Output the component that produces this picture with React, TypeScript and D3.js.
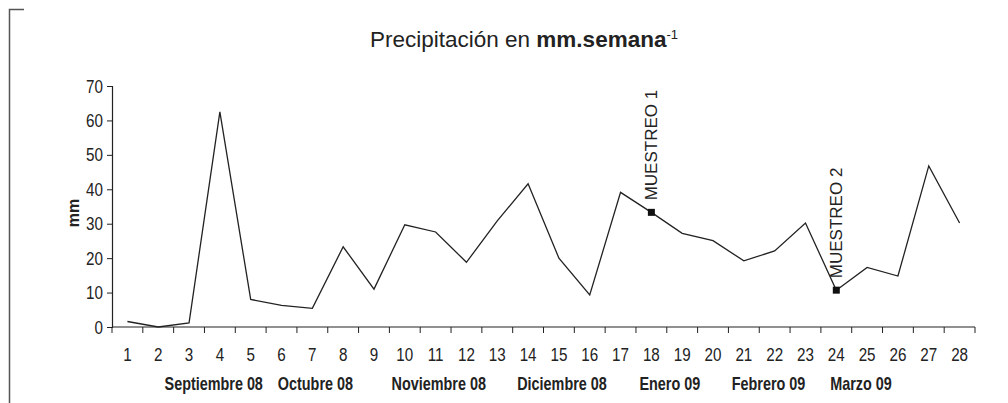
import { useEffect, useRef } from 'react'
import * as d3 from 'd3'

const weeks = d3.range(1, 29).map(String)
const rain = [1.6, 0, 1.2, 62.5, 8.0, 6.3, 5.4, 23.3, 11.0, 29.7, 27.6, 18.8, 30.8, 41.6,
  20.0, 9.3, 39.1, 33.3, 27.2, 25.1, 19.2, 22.1, 30.2, 10.7, 17.3, 14.8, 46.8, 30.2]
const yTicks = [0, 10, 20, 30, 40, 50, 60, 70]
const months = ['Septiembre 08', 'Octubre 08', 'Noviembre 08', 'Diciembre 08', 'Enero 09', 'Febrero 09', 'Marzo 09']
// month label centres, in week units
const monthPos = [3.8, 7.1, 11.1, 15.1, 18.6, 21.8, 24.8]
const samples = [
  { week: '18', label: 'MUESTREO 1' },
  { week: '24', label: 'MUESTREO 2' },
]

const W = 1008
const H = 403
const sans = '"Liberation Sans", Arial, sans-serif'
const ink = '#222'
const squeeze = 0.8 // fake an Arial Narrow look

export default function App() {
  const svgRef = useRef<SVGSVGElement>(null)

  useEffect(() => {
    if (!svgRef.current) return
    const svg = d3.select(svgRef.current)
    svg.selectAll('*').remove()

    const narrowText = (px: number, py: number, txt: string, size: number, anchor: string, bold = false) =>
      svg.append('text')
        .attr('transform', `translate(${px},${py}) scale(${squeeze},1)`)
        .attr('text-anchor', anchor)
        .style('font-family', sans)
        .style('font-size', `${size}px`)
        .style('font-weight', bold ? 'bold' : 'normal')
        .attr('fill', ink)
        .text(txt)

    const margin = { top: 86, left: 112, right: 33, bottom: 76 }
    const x = d3.scaleBand<string>()
      .domain(weeks)
      .range([margin.left, W - margin.right])
    const y = d3.scaleLinear()
      .domain([0, 70])
      .range([H - margin.bottom, margin.top])
    const cx = (w: string) => (x(w) as number) + x.bandwidth() / 2

    // outer frame remnant
    svg.append('path')
      .attr('d', `M9.5,${H} V9.5 H24`)
      .attr('fill', 'none')
      .attr('stroke', '#555')
      .attr('stroke-width', 1.5)

    // title
    const title = svg.append('text')
      .attr('x', 524)
      .attr('y', 47)
      .attr('text-anchor', 'middle')
      .style('font-family', sans)
      .style('font-size', '22.5px')
      .attr('fill', ink)
    title.append('tspan').text('Precipitación en ')
    title.append('tspan').style('font-weight', 'bold').text('mm.semana')
    title.append('tspan').attr('dy', -8).style('font-size', '13px').text('-1')

    // y axis
    const yAxis = svg.append('g')
      .attr('transform', `translate(${margin.left},0)`)
      .call(d3.axisLeft(y).tickValues(yTicks).tickSize(5).tickFormat(() => ''))
    yAxis.select('.domain').attr('stroke', ink).attr('stroke-width', 1.2)
    yAxis.selectAll('.tick line').attr('stroke', ink)
    yTicks.forEach(t => narrowText(margin.left - 9, y(t) + 6.5, String(t), 19, 'end'))

    svg.append('text')
      .attr('transform', `translate(79,213) rotate(-90)`)
      .attr('text-anchor', 'middle')
      .style('font-family', sans)
      .style('font-weight', 'bold')
      .style('font-size', '16px')
      .attr('fill', ink)
      .text('mm')

    // x axis: ticks on band edges
    const xg = svg.append('g')
      .attr('transform', `translate(0,${y(0)})`)
    xg.append('line')
      .attr('x1', margin.left).attr('x2', W - margin.right)
      .attr('stroke', ink).attr('stroke-width', 1.2)
    const edges = [...weeks.map(w => x(w) as number), W - margin.right]
    xg.selectAll('.edge')
      .data(edges)
      .enter().append('line')
      .attr('x1', d => d).attr('x2', d => d)
      .attr('y1', 0).attr('y2', 6)
      .attr('stroke', ink)
    weeks.forEach(w => narrowText(cx(w), y(0) + 34, w, 19, 'middle'))

    const wkToX = d3.scaleLinear().domain([1, 28]).range([cx('1'), cx('28')])
    months.forEach((m, i) => narrowText(wkToX(monthPos[i]), 390, m, 18, 'middle', true))

    // series
    const line = d3.line<number>()
      .x((_, i) => cx(weeks[i]))
      .y(d => y(d))
    svg.append('path')
      .datum(rain)
      .attr('fill', 'none')
      .attr('stroke', ink)
      .attr('stroke-width', 1.3)
      .attr('d', line)

    // sampling markers
    samples.forEach(s => {
      const v = rain[weeks.indexOf(s.week)]
      const px = cx(s.week)
      const py = y(v)
      svg.append('rect')
        .attr('x', px - 3.5).attr('y', py - 3.5)
        .attr('width', 7).attr('height', 7)
        .attr('fill', '#111')
      svg.append('text')
        .attr('transform', `translate(${px + 6},${py - 12}) rotate(-90)`)
        .style('font-family', sans)
        .style('font-size', '17px')
        .attr('fill', ink)
        .text(s.label)
    })
  }, [])

  return (
    <svg ref={svgRef} width={W} height={H}
      style={{ position: 'absolute', left: 0, top: 0, background: '#fff' }} />
  )
}
